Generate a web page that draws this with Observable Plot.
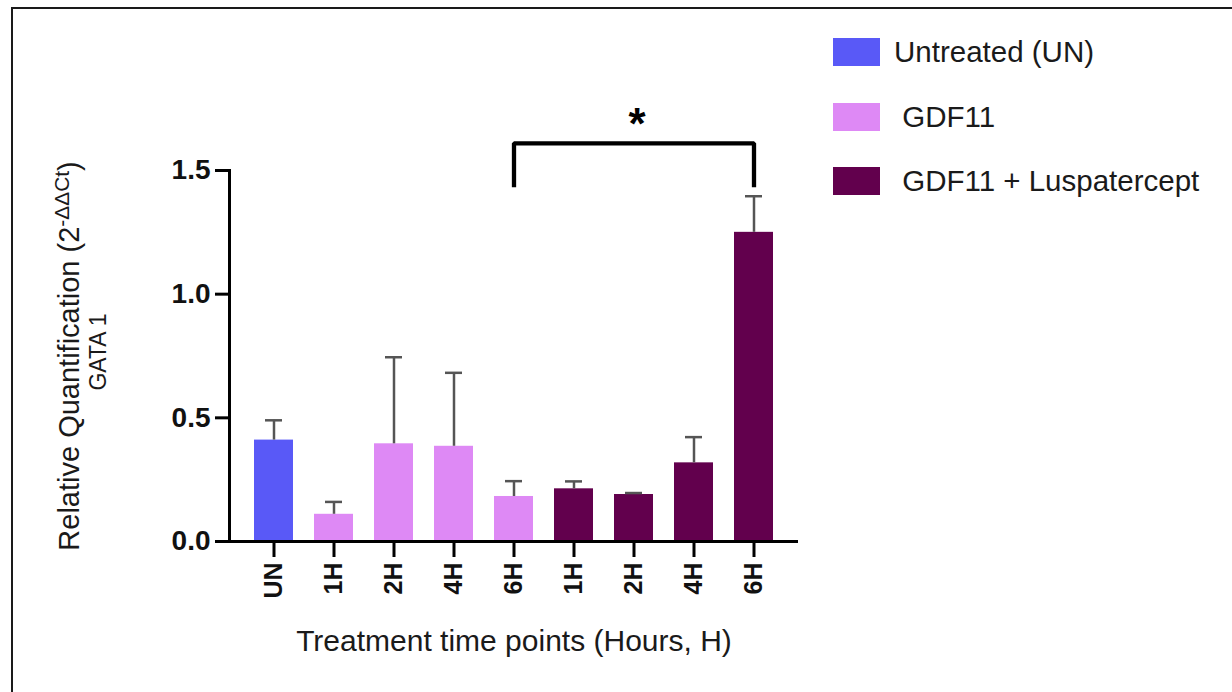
<!DOCTYPE html>
<html>
<head>
<meta charset="utf-8">
<script src="https://cdn.jsdelivr.net/npm/d3@7"></script>
<script src="https://cdn.jsdelivr.net/npm/@observablehq/plot@0.6"></script>
<style>
  html, body { margin: 0; padding: 0; background: #fff; }
  body { width: 1232px; height: 692px; position: relative; overflow: hidden; font-family: "Liberation Sans", Arial, sans-serif; color: #111; }
  #border { position: absolute; left: 11px; top: 7px; width: 1225px; height: 690px; border-top: 2px solid #1a1a1a; border-left: 2px solid #1a1a1a; }
  #chart { position: absolute; left: 0; top: 0; }
  #legend { position: absolute; left: 833px; top: 38px; display: flex; flex-direction: column; gap: 36.5px; }
  .item { display: flex; align-items: center; height: 28px; }
  .sw { width: 47px; height: 28px; flex: none; }
  .lab { margin-left: 14px; font-size: 29.5px; line-height: 28px; white-space: pre; color: #1a1a1a; }
  svg { font-family: "Liberation Sans", Arial, sans-serif; color: #000; }
  g[aria-label="y-axis tick label"] { font-size: 28px; font-weight: bold; }
  g[aria-label="x-axis tick label"] { font-size: 25px; font-weight: bold; }
</style>
</head>
<body>
<div id="border"></div>
<div id="chart"></div>
<div id="legend"></div>
<script>
// ---- data ----
const categories = ["UN", "1H", "2H", "4H", "6H", "1H", "2H", "4H", "6H"];
const treatments = ["Untreated (UN)", "GDF11", "GDF11", "GDF11", "GDF11",
  "GDF11 + Luspatercept", "GDF11 + Luspatercept", "GDF11 + Luspatercept", "GDF11 + Luspatercept"];
const means = [0.41, 0.11, 0.395, 0.385, 0.182, 0.213, 0.19, 0.318, 1.25];
const errors = [0.08, 0.05, 0.35, 0.297, 0.062, 0.03, 0.006, 0.104, 0.146];
const groups = ["Untreated (UN)", "GDF11", "GDF11 + Luspatercept"];
const legendLabels = ["Untreated (UN)", " GDF11", " GDF11 + Luspatercept"];
const groupColors = ["#5959F7", "#DE89F5", "#62004D"];
const yTicks = [0, 0.5, 1.0, 1.5];
const comparisons = [{from: 4, to: 8, label: "*", top: 1.61, leg: 1.432}];
const xTitle = "Treatment time points (Hours, H)";
const yTitle1 = "Relative Quantification (2-ΔΔCt)";
const yTitle2 = "GATA 1";

const rows = categories.map((c, i) => ({i, cat: c, group: treatments[i], mean: means[i], upper: means[i] + errors[i]}));
const bracketPts = comparisons.flatMap(c => [
  {x: c.from, y: c.leg}, {x: c.from, y: c.top}, {x: c.to, y: c.top}, {x: c.to, y: c.leg}
]);

const chart = Plot.plot({
  width: 820,
  height: 692,
  marginLeft: 229,
  marginRight: 22,
  marginTop: 170,
  marginBottom: 151,
  style: {background: "transparent", fontFamily: "Liberation Sans, Arial, sans-serif", color: "#000"},
  x: {type: "band", domain: d3.range(categories.length), paddingInner: 0.342, paddingOuter: 0.354, axis: null},
  y: {domain: [0, 1.5], axis: null},
  color: {domain: groups, range: groupColors},
  marks: [
    Plot.barY(rows, {x: "i", y: "mean", fill: "group"}),
    Plot.ruleX(rows, {x: "i", y1: "mean", y2: "upper", stroke: "#555", strokeWidth: 2.5}),
    Plot.tickY(rows, {x: "i", y: "upper", stroke: "#555", strokeWidth: 2.5, insetLeft: 11, insetRight: 11}),
    Plot.frame({anchor: "left", strokeWidth: 3, stroke: "#000"}),
    Plot.ruleY([0], {strokeWidth: 3, stroke: "#000"}),
    Plot.axisY({ticks: yTicks, tickFormat: d3.format(".1f"), tickSize: 14, tickPadding: 5, strokeWidth: 3, fontSize: 28, fontWeight: "bold", label: null, fill: "#111"}),
    Plot.axisX({tickSize: 16, tickPadding: 5, tickRotate: -90, tickFormat: i => categories[i], strokeWidth: 3, fontSize: 25, fontWeight: "bold", label: null, fill: "#111"}),
    Plot.line(bracketPts, {x: "x", y: "y", stroke: "#000", strokeWidth: 4.3, strokeLinejoin: "miter", strokeLinecap: "butt"}),
    Plot.text(comparisons, {x: c => Math.round((c.from + c.to) / 2), y: "top", text: "label", dx: 3, dy: -18, fontSize: 44, fontWeight: "bold", fill: "#000"}),
    Plot.text([xTitle], {frameAnchor: "bottom", dy: 109, fontSize: 30, fill: "#1a1a1a"}),
    Plot.text([yTitle1], {frameAnchor: "left", textAnchor: "middle", rotate: -90, dx: -160, fontSize: 29, fill: "#1a1a1a"}),
    Plot.text([yTitle2], {frameAnchor: "left", textAnchor: "middle", rotate: -90, dx: -131, dy: -4, fontSize: 23, fill: "#1a1a1a"})
  ]
});

// superscript in y title
d3.select(chart).selectAll("text").filter(function() { return this.textContent === yTitle1; }).each(function() {
  const t = d3.select(this);
  const full = yTitle1;
  const k = full.indexOf("(2");
  t.text(null);
  t.append("tspan").text(full.slice(0, k + 2));
  t.append("tspan").attr("dy", "-0.45em").attr("font-size", "0.72em").text(full.slice(k + 2, full.length - 1));
  t.append("tspan").attr("dy", "0.33em").text(full.slice(full.length - 1));
});

document.getElementById("chart").appendChild(chart);

const legend = d3.select("#legend");
groups.forEach((g, j) => {
  const item = legend.append("div").attr("class", "item");
  item.append("div").attr("class", "sw").style("background", groupColors[j]);
  item.append("div").attr("class", "lab").text(legendLabels[j]);
});
</script>
</body>
</html>
